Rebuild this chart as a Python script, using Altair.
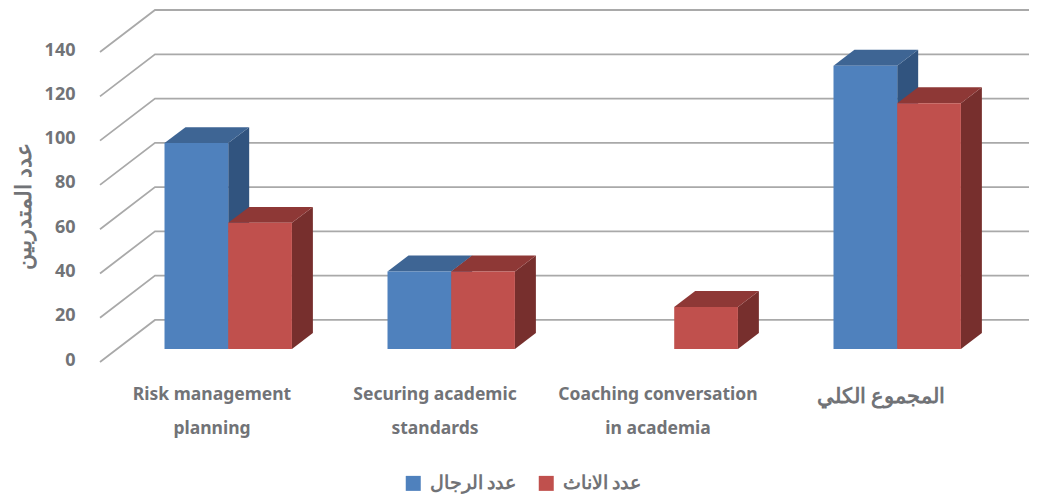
import json
import altair as alt
import pandas as pd

categories = [["Risk management", "planning"], ["Securing academic", "standards"],
              ["Coaching conversation", "in academia"], ["المجموع الكلي"]]
men = [93, 35, 0, 128]
women = [57, 35, 19, 111]
men_name = "عدد الرجال"
women_name = "عدد الاناث"
y_title = "عدد المتدربين"
ticks = [0, 20, 40, 60, 80, 100, 120, 140]

FONT = "Noto Sans"
TXT = "#717377"

X_MAX = 4.166
Y_MAX = 159.0
WALL_DX, WALL_DY = 0.2466, 19.0
DX, DY = 0.094, 7.2
BASE = 5.87
BAR_W = 0.2857
SPLIT = 0.575

xs = alt.Scale(domain=[0, X_MAX], nice=False, zero=False)
ys = alt.Scale(domain=[0, Y_MAX], nice=False, zero=False)

label_expr = "%s[floor(datum.value)]" % json.dumps(categories, ensure_ascii=False)
x_axis = alt.Axis(values=[0.5, 1.5, 2.5, 3.5], labelExpr=label_expr, title=None, grid=False,
                  domain=False, ticks=False, labelPadding=23, labelFont=FONT,
                  labelFontSize={"condition": {"test": "datum.value > 3", "value": 21}, "value": 17.5},
                  labelFontWeight="bold", labelColor=TXT, labelLimit=400,
                  labelLineHeight=34, labelBaseline="top", labelOverlap=False, labelFlush=False)
y_axis = alt.Axis(values=ticks, title=y_title, grid=False, domain=False, ticks=False,
                  labelPadding=25, labelFont=FONT, labelFontSize=18, labelFontWeight="bold",
                  labelColor=TXT, labelOffset=-2, labelOverlap=False,
                  titleFont=FONT, titleFontSize=21.5, titleFontWeight="bold", titleColor=TXT,
                  titleX=-65, titleY=196)
X = alt.X("x:Q", scale=xs, axis=x_axis)


def faces(values, x0_off):
    front, top, side = [], [], []
    for i, v in enumerate(values):
        if v == 0:
            continue
        x0 = i + x0_off
        x1 = x0 + BAR_W
        t = BASE + v
        front.append(dict(x=x0, x2=x1, y=BASE, y2=t))
        top += [dict(b=i, x=x0, y=t, y2=t), dict(b=i, x=x0 + DX, y=t + DY, y2=t),
                dict(b=i, x=x1, y=t + DY, y2=t), dict(b=i, x=x1 + DX, y=t + DY, y2=t + DY)]
        side += [dict(b=i, x=x1, y=BASE, y2=t), dict(b=i, x=x1 + DX, y=BASE + DY, y2=t + DY)]
    return pd.DataFrame(front), pd.DataFrame(top), pd.DataFrame(side)


def area(df, colour):
    return alt.Chart(df).mark_area(color=colour, opacity=1, strokeWidth=0).encode(
        x=X,
        y=alt.Y("y:Q", scale=ys, stack=None, axis=y_axis),
        y2="y2:Q",
        detail="b:N",
    )


def front_bar(df, name):
    return alt.Chart(df.assign(s=name)).mark_rect(strokeWidth=0).encode(
        x=X,
        x2="x2:Q",
        y=alt.Y("y:Q", scale=ys, axis=y_axis),
        y2="y2:Q",
        fill=alt.Fill("s:N", scale=alt.Scale(domain=[men_name, women_name], range=["#4F81BD", "#C0504D"]),
                      legend=alt.Legend(title=None, orient="none", direction="horizontal", legendX=304, legendY=464,
                                        symbolType="square", symbolSize=225, symbolStrokeWidth=0,
                                        symbolOpacity=1, labelFont=FONT, labelFontSize=18.5, labelFontWeight="bold",
                                        labelColor=TXT, columnPadding=20, labelOffset=7, rowPadding=0)),
    )


grid_rows = []
for t in ticks:
    grid_rows += [dict(t=t, x=0, y=t), dict(t=t, x=WALL_DX, y=t + WALL_DY), dict(t=t, x=X_MAX, y=t + WALL_DY)]

grid = alt.Chart(pd.DataFrame(grid_rows)).mark_line(color="#a9a9a9", strokeWidth=1.8).encode(
    x=X,
    y=alt.Y("y:Q", scale=ys, axis=y_axis),
    detail="t:N",
)

m_f, m_t, m_s = faces(men, SPLIT - BAR_W)
w_f, w_t, w_s = faces(women, SPLIT)

chart = alt.layer(
    grid,
    area(m_s, "#31547F"), area(m_t, "#3E6594"), front_bar(m_f, men_name),
    area(w_s, "#772F2D"), area(w_t, "#8E3836"), front_bar(w_f, women_name),
).properties(
    width=929, height=352,
    padding={"left": 92, "top": 2, "right": 0, "bottom": 135},
    autosize=alt.AutoSizeParams(type="none"),
).configure_view(stroke=None)

chart.save("out.html", embed_options={"renderer": "svg", "actions": False})
